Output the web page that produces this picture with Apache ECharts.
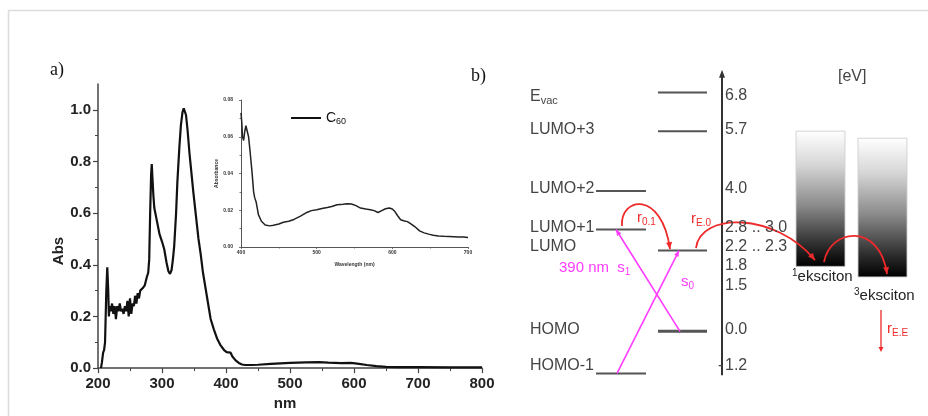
<!DOCTYPE html>
<html><head><meta charset="utf-8">
<script src="https://cdn.jsdelivr.net/npm/echarts@6/dist/echarts.min.js"></script>
<style>html,body{margin:0;padding:0;background:#fff}#c{width:928px;height:416px}</style>
</head><body><div id="c"></div>
<script>
// ---------- DATA ----------
// Main absorption spectrum of C60 (panel a)
const mainNm  = [204.7,206,208,209.5,211,213,214.5,216,217,218,220,222,224,226,228,230,232,234,236,238,240,242,244,246,248,250,252,254,256,258,260,262,264,266,268,270,273,276,278.5,280,281.5,283,284,285,286.5,288,292,296,300,303.5,307,310,312.5,315,317,319,322,324,327,329.5,332,334,336,337.5,340,343,345,349,353,357,360.5,364,368,372,376,381,386,391,397,401,404,407,410,415,420,425,430,440,450,470,500,525,545,560,580,595,605,620,635,650,670,700,750,800];
const mainAbs = [0,0.02,0.06,0.07,0.1,0.3,0.39,0.3,0.2,0.24,0.22,0.25,0.21,0.24,0.19,0.24,0.22,0.25,0.22,0.23,0.21,0.24,0.22,0.26,0.2,0.27,0.21,0.25,0.24,0.28,0.25,0.29,0.27,0.3,0.3,0.31,0.32,0.35,0.37,0.42,0.6,0.75,0.79,0.74,0.67,0.62,0.57,0.52,0.49,0.46,0.41,0.375,0.365,0.38,0.42,0.47,0.6,0.72,0.85,0.94,0.99,1.006,1.0,0.98,0.92,0.83,0.78,0.68,0.59,0.5,0.44,0.37,0.31,0.25,0.19,0.15,0.115,0.09,0.07,0.062,0.065,0.06,0.045,0.03,0.02,0.014,0.012,0.012,0.013,0.016,0.02,0.022,0.023,0.021,0.019,0.02,0.017,0.012,0.008,0.005,0.004,0.004,0.003,0.003];
// Inset spectrum 400-700 nm
const insetNm  = [400,401,402,403.5,405,406.5,408.5,410,412,414.5,416.7,418,420,423,427,432,438,443,450,456,463,470,478,487,493,500,507,514,520,527,535,540,546,552,558,565,571,576,581,586,591,596,600,603,607,611,616,620,625,630,636,642,648,654,661,668,675,681,688,694,700];
const insetAbs = [0.073,0.068,0.060,0.058,0.063,0.066,0.065,0.060,0.052,0.041,0.030,0.027,0.0245,0.0176,0.014,0.012,0.0115,0.0118,0.0125,0.0135,0.014,0.015,0.0167,0.0188,0.0198,0.0203,0.021,0.0215,0.022,0.023,0.0233,0.0235,0.0234,0.0225,0.0212,0.0207,0.0203,0.0198,0.0188,0.0198,0.0208,0.0212,0.0207,0.0195,0.017,0.0148,0.0142,0.0138,0.0125,0.011,0.0088,0.0077,0.007,0.0064,0.006,0.0058,0.0057,0.0056,0.0054,0.0055,0.0052];
const mainYTicks = [0,0.2,0.4,0.6,0.8,1.0];
const seriesName = 'C60';

// Energy-level diagram (panel b), energies in eV
const levelNames    = ['E{s|vac}','LUMO+3','LUMO+2','LUMO+1','LUMO','HOMO','HOMO-1'];
const levelEnergies = [6.8,5.7,4.0,2.9,2.3,0.0,-1.2];
const levelColumn   = [1,1,0,0,1,1,0];
const energyLabels  = ['6.8','5.7','4.0','2.8 .. 3.0','2.2 .. 2.3','1.8','1.5','0.0','1.2'];
const excitonNames  = ['1','3'];
const excitonTop    = [5.7,5.5];
const excitonBottom = [1.85,1.55];

// ---------- LAYOUT ----------
const FONT = 'Liberation Sans, Arial, sans-serif';
const colX = [[126,176],[188,237]];   // diagram x-units of the two level columns
const excX = [[326,375],[388,437]];
const axisXd = 252;
const rowY = [95.5,129.5,188.5,227.5,246.5,265.5,285.5,330,366]; // label rows (px)
const leftRowIdx = [0,1,2,3,4,7,8];
const MAG = '#ff3cff', RED = '#ee2a2a', TXT = '#444';

const chart = echarts.init(document.getElementById('c'), null, {renderer:'canvas', width:928, height:416});

const axisCommon = (col) => ({
  axisLine:{lineStyle:{color:col,width:1.5}},
  axisTick:{inside:false,length:5,lineStyle:{color:col,width:1.2}},
  minorTick:{show:true,splitNumber:2,length:3,lineStyle:{color:col,width:1}},
  splitLine:{show:false}
});

const option = {
  animation:false,
  backgroundColor:'#fff',
  grid:[
    {left:98, top:84, width:384, height:286},
    {left:241, top:100, width:227, height:147},
    {left:470, top:68, width:458, height:316}
  ],
  legend:{
    left:286, top:105, icon:'rect', itemWidth:30, itemHeight:2, itemGap:0,
    data:[seriesName],
    formatter:()=> 'C{s|60}',
    textStyle:{fontFamily:FONT,fontSize:14,color:'#111',lineHeight:16,
      rich:{s:{fontFamily:FONT,fontSize:9,color:'#111',verticalAlign:'bottom',lineHeight:8}}}
  },
  xAxis:[
    Object.assign({gridIndex:0,type:'value',min:200,max:800,interval:100,
      axisLabel:{fontFamily:FONT,fontWeight:'bold',fontSize:15,color:'#222',margin:8},
      name:'nm',nameLocation:'middle',nameGap:25,
      nameTextStyle:{fontFamily:FONT,fontWeight:'bold',fontSize:15,color:'#222',padding:[0,10,0,0]}
    }, axisCommon('#444')),
    {gridIndex:1,type:'value',min:400,max:700,interval:100,
      axisLine:{lineStyle:{color:'#555',width:1}},
      axisTick:{length:2,lineStyle:{color:'#555',width:0.8}},
      minorTick:{show:true,splitNumber:2,length:1.5,lineStyle:{color:'#555',width:0.8}},
      splitLine:{show:false},
      axisLabel:{fontFamily:FONT,fontWeight:'bold',fontSize:5,color:'#333',margin:3},
      name:'Wavelength (nm)',nameLocation:'middle',nameGap:15,
      nameTextStyle:{fontFamily:FONT,fontWeight:'bold',fontSize:5,color:'#333'}},
    {gridIndex:2,type:'value',min:0,max:458,show:false}
  ],
  yAxis:[
    Object.assign({gridIndex:0,type:'value',min:0,max:1.1,interval:0.2,
      axisLabel:{fontFamily:FONT,fontWeight:'bold',fontSize:15,color:'#222',margin:7,
        customValues:mainYTicks, formatter:(v)=>v.toFixed(1)}
    }, axisCommon('#444'), {axisTick:{inside:false,length:5,customValues:mainYTicks,lineStyle:{color:'#444',width:1.2}}}),
    {gridIndex:1,type:'value',min:0,max:0.08,interval:0.02,
      axisLine:{lineStyle:{color:'#555',width:1}},
      axisTick:{length:2,lineStyle:{color:'#555',width:0.8}},
      minorTick:{show:true,splitNumber:2,length:1.5,lineStyle:{color:'#555',width:0.8}},
      splitLine:{show:false},
      axisLabel:{fontFamily:FONT,fontWeight:'bold',fontSize:5,color:'#333',margin:8,formatter:(v)=>v.toFixed(2)},
      name:'Absorbance',nameLocation:'middle',nameGap:21,
      nameTextStyle:{fontFamily:FONT,fontWeight:'bold',fontSize:5,color:'#333'}},
    {gridIndex:2,type:'value',min:-1.5,max:7.5,show:false}
  ],
  series:[
    {name:seriesName,type:'line',xAxisIndex:0,yAxisIndex:0,showSymbol:false,
      data:mainNm.map((x,i)=>[x,mainAbs[i]]),lineStyle:{color:'#111',width:2.2},itemStyle:{color:'#111'}},
    {name:seriesName,type:'line',xAxisIndex:1,yAxisIndex:1,showSymbol:false,
      data:insetNm.map((x,i)=>[x,insetAbs[i]]),lineStyle:{color:'#222',width:1.5},itemStyle:{color:'#111'}},
    {type:'custom',xAxisIndex:2,yAxisIndex:2,silent:true,z:1,
      data:excitonNames.map((n,i)=>[excX[i][0], excX[i][1], excitonTop[i], excitonBottom[i]]),
      renderItem:(params,api)=>{
        const p0=api.coord([api.value(0),api.value(2)]), p1=api.coord([api.value(1),api.value(3)]);
        return {type:'rect',shape:{x:p0[0],y:p0[1],width:p1[0]-p0[0],height:p1[1]-p0[1]},
          style:{fill:new echarts.graphic.LinearGradient(0,0,0,1,[
            {offset:0,color:'#ffffff'},{offset:0.25,color:'#d6d6d6'},{offset:0.55,color:'#8a8a8a'},{offset:0.85,color:'#2a2a2a'},{offset:1,color:'#000'}]),
            stroke:'#ccc',lineWidth:0.5}};
      }},
    {type:'custom',xAxisIndex:2,yAxisIndex:2,silent:true,
      data:levelEnergies.map((e,i)=>[colX[levelColumn[i]][0],colX[levelColumn[i]][1],e,i]),
      renderItem:(params,api)=>{
        const p0=api.coord([api.value(0),api.value(2)]), p1=api.coord([api.value(1),api.value(2)]);
        const isHomo = levelNames[api.value(3)]==='HOMO';
        return {type:'line',shape:{x1:p0[0],y1:p0[1],x2:p1[0],y2:p1[1]},
          style:{stroke:'#555',lineWidth:isHomo?3:2}};
      }}
  ]
};
chart.setOption(option);

// ---------- DIAGRAM OVERLAY (through the diagram grid's scales) ----------
const P = (x,e)=>chart.convertToPixel({xAxisIndex:2,yAxisIndex:2},[x,e]);
const g = [];
// frame
g.push({type:'line',shape:{x1:8,y1:10.5,x2:928,y2:10.5},style:{stroke:'#dcdcdc',lineWidth:1.5}});
g.push({type:'line',shape:{x1:8.5,y1:10,x2:8.5,y2:416},style:{stroke:'#dcdcdc',lineWidth:1.5}});

function arrowHead(tip, from, len, half, color){
  const dx=tip[0]-from[0], dy=tip[1]-from[1], L=Math.hypot(dx,dy)||1;
  const ux=dx/L, uy=dy/L, bx=tip[0]-ux*len, by=tip[1]-uy*len;
  return {type:'polygon',z:100,shape:{points:[tip,[bx-uy*half,by+ux*half],[bx+uy*half,by-ux*half]]},style:{fill:color}};
}
// energy axis with arrow
const aB=P(axisXd,-1.25), aT=P(axisXd,7.45);
g.push({type:'line',z:100,shape:{x1:aB[0],y1:aB[1],x2:aT[0],y2:aT[1]+4},style:{stroke:'#333',lineWidth:2}});
g.push(arrowHead(aT,[aT[0],aT[1]+10],8,3,'#333'));

// optical transitions (magenta)
const transitions = [[[210,0.0],[146,2.9]],[[147,-1.2],[209,2.3]]];
transitions.forEach(t=>{
  const a=P(...t[0]), b=P(...t[1]);
  g.push({type:'line',z:100,shape:{x1:a[0],y1:a[1],x2:b[0],y2:b[1]},style:{stroke:MAG,lineWidth:1.6}});
  g.push(arrowHead(b,a,6,2.5,MAG));
});
// relaxation arcs (red), cubic beziers in diagram units
const arcs = [
  [[152,3.0],[150,3.83],[192,4.03],[200,2.34]],
  [[226,2.37],[230,3.40],[305,3.40],[345,2.03]],
  [[354,1.97],[360,2.94],[410,3.11],[417,1.63]]
];
arcs.forEach(a=>{
  const q=a.map(p=>P(...p));
  g.push({type:'bezierCurve',z:100,shape:{x1:q[0][0],y1:q[0][1],cpx1:q[1][0],cpy1:q[1][1],cpx2:q[2][0],cpy2:q[2][1],x2:q[3][0],y2:q[3][1]},
    style:{stroke:RED,lineWidth:1.8,fill:null}});
  g.push(arrowHead(q[3],q[2],7,3,RED));
});
const eA=P(411,0.61), eB=P(411,-0.59);
g.push({type:'line',z:100,shape:{x1:eA[0],y1:eA[1],x2:eB[0],y2:eB[1]-3},style:{stroke:RED,lineWidth:1.3}});
g.push(arrowHead(eB,eA,5,2.5,RED));

// texts
function txt(x,y,text,opt){
  opt=opt||{};
  const size=opt.size||15, color=opt.color||TXT, fam=opt.font||FONT;
  const rich={
    m:{fontFamily:fam,fontSize:size,fill:color,color:color,lineHeight:size+3},
    s:{fontFamily:fam,fontSize:Math.round(size*0.66),fill:color,color:color,verticalAlign:'bottom',lineHeight:8},
    p:{fontFamily:fam,fontSize:Math.round(size*0.66),fill:color,color:color,verticalAlign:'top',lineHeight:8}
  };
  g.push({type:'text',z:101,x:x,y:y,style:{text:text,rich:rich,fill:color,fontFamily:fam,fontSize:size,
    align:opt.align||'left',textAlign:opt.align||'left',verticalAlign:'middle',textVerticalAlign:'middle'}});
}
txt(50,70,'{m|a)}',{size:18,color:'#111',font:'Liberation Serif, serif'});
txt(471,76,'{m|b)}',{size:18,color:'#111',font:'Liberation Serif, serif'});
levelNames.forEach((n,i)=>{
  const t = n.indexOf('{')>=0 ? n.replace('E{s|vac}','{m|E}{s|vac}') : '{m|'+n+'}';
  txt(530,rowY[leftRowIdx[i]]+(i===0?1:0),t,{size:16});
});
energyLabels.forEach((l,i)=>txt(725,rowY[i],'{m|'+l+'}',{size:16}));
txt(718,rowY[8],'{m|-}',{size:16});
txt(838,76.5,'{m|[eV]}',{size:16});
txt(559,268,'{m|390 nm  s}{s|1}',{size:15,color:MAG});
txt(681,282,'{m|s}{s|0}',{size:15,color:MAG});
txt(637,218,'{m|r}{s|0.1}',{size:15,color:RED});
txt(691,219,'{m|r}{s|E.0}',{size:15,color:RED});
txt(887,329,'{m|r}{s|E.E}',{size:15,color:RED});
txt(792,277,'{p|1}{m|eksciton}',{size:15,color:'#222'});
txt(854,296,'{p|3}{m|eksciton}',{size:15,color:'#222'});
// main "Abs" axis title
g.push({type:'text',z:101,x:59,y:251,rotation:Math.PI/2,style:{text:'Abs',fontFamily:FONT,fontWeight:'bold',fontSize:15,fill:'#222',
  align:'center',textAlign:'center',verticalAlign:'middle',textVerticalAlign:'middle'}});

chart.setOption({graphic:{elements:g}});
</script>
</body></html>
